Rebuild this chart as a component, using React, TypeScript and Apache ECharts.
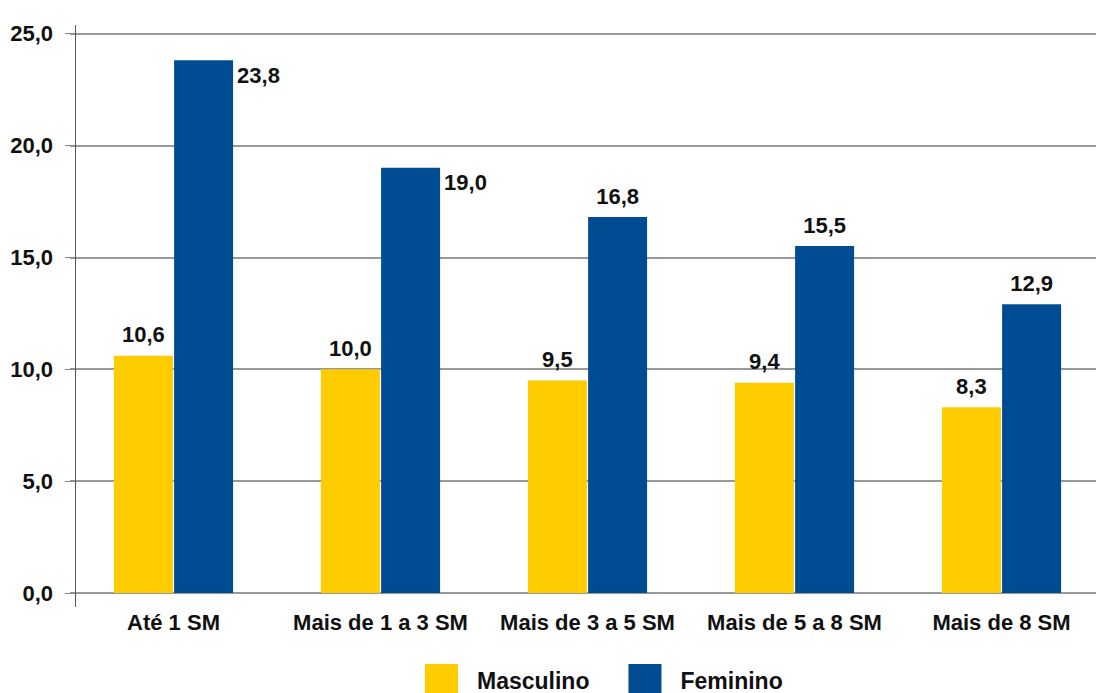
import React, { useEffect, useRef } from "react";
import * as echarts from "echarts";

const categories = ["Até 1 SM", "Mais de 1 a 3 SM", "Mais de 3 a 5 SM", "Mais de 5 a 8 SM", "Mais de 8 SM"];
const masculino = [10.6, 10.0, 9.5, 9.4, 8.3];
const feminino = [23.8, 19.0, 16.8, 15.5, 12.9];
const yTicks = [0, 5, 10, 15, 20, 25];
const sideLabelIdx = [0, 1];

const FONT = "'Liberation Sans', Arial, sans-serif";
const YELLOW = "#FFCC00";
const BLUE = "#004C93";

const fmt = (v: number) => v.toFixed(1).replace(".", ",");

export default function App() {
  const ref = useRef<HTMLDivElement>(null);
  useEffect(() => {
    document.body.style.overflow = "hidden";
    const chart = echarts.init(ref.current!, null, { renderer: "svg" });
    const labelStyle = {
      fontFamily: FONT,
      fontWeight: "bold" as const,
      fontSize: 22,
      color: "#111",
    };
    chart.setOption({
      animation: false,
      backgroundColor: "#fff",
      grid: { left: 70, width: 1035, top: 33.5, bottom: 100, containLabel: false },
      xAxis: {
        type: "category",
        data: categories,
        axisLine: { show: false },
        axisTick: { show: false },
        axisLabel: { ...labelStyle, margin: 18, interval: 0 },
      },
      yAxis: {
        type: "value",
        min: yTicks[0],
        max: yTicks[yTicks.length - 1],
        interval: 5,
        offset: -5,
        axisLine: { show: true, lineStyle: { color: "#555", width: 1 } },
        axisTick: { show: true, length: 10, lineStyle: { color: "#888", width: 1 } },
        splitLine: { show: true, lineStyle: { color: "#999", width: 2 } },
        axisLabel: { ...labelStyle, margin: 22, formatter: (v: number) => fmt(v) },
      },
      legend: {
        left: 420,
        top: 659,
        itemWidth: 33,
        itemHeight: 34,
        itemGap: 39,
        icon: "rect",
        textStyle: { ...labelStyle, fontSize: 23, padding: [0, 0, 0, 14] },
        data: ["Masculino", "Feminino"],
      },
      graphic: [
        {
          type: "line",
          shape: { x1: 75.5, y1: 25, x2: 75.5, y2: 607 },
          style: { stroke: "#555", lineWidth: 1 },
          z: 10,
        },
      ],
      series: [
        {
          name: "Masculino",
          type: "bar",
          barWidth: 59,
          barGap: "2%",
          itemStyle: { color: YELLOW },
          label: {
            show: true,
            position: "top",
            distance: 10,
            ...labelStyle,
            formatter: (p: any) => fmt(p.value),
          },
          data: masculino,
        },
        {
          name: "Feminino",
          type: "bar",
          barWidth: 59,
          itemStyle: { color: BLUE },
          label: {
            show: true,
            position: "top",
            distance: 10,
            ...labelStyle,
            formatter: (p: any) => fmt(p.value),
          },
          data: feminino.map((v, i) =>
            sideLabelIdx.includes(i)
              ? {
                  value: v,
                  label: {
                    position: ["100%", 0],
                    offset: [4, 4],
                    align: "left",
                    verticalAlign: "top",
                  },
                }
              : v
          ),
        },
      ],
    });
    return () => chart.dispose();
  }, []);
  return <div ref={ref} style={{ width: 1110, height: 693, position: "absolute", left: 0, top: 0 }} />;
}
